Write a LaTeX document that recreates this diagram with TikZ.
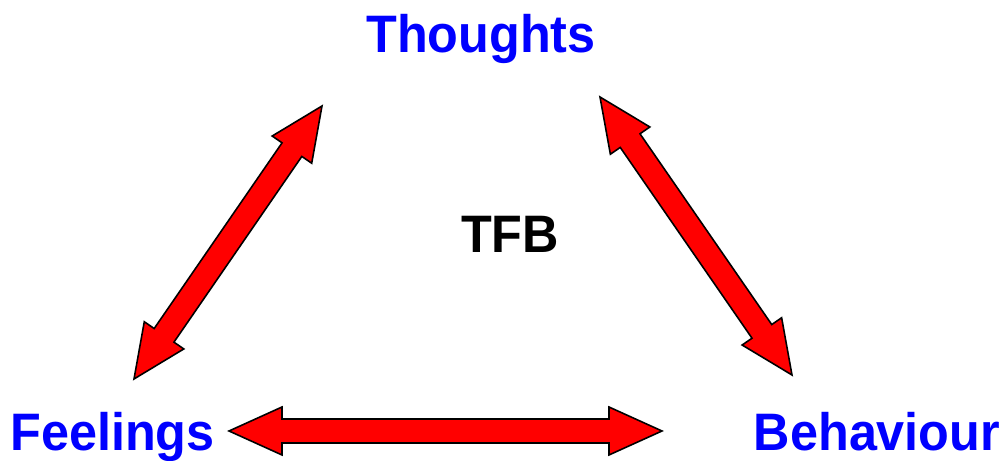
\documentclass[tikz,border=0pt]{standalone}
\usepackage{fontspec}
\setmainfont{Liberation Sans}[FakeStretch=0.955]
\usepackage{tikz}
\usetikzlibrary{calc}
\tikzstyle{word}=[inner sep=0pt, anchor=base, font=\fontsize{30}{36}\selectfont\bfseries, text=blue]
\tikzstyle{mid}=[inner sep=0pt, anchor=base, font=\fontsize{30}{36}\selectfont\bfseries, text=black]
\tikzstyle{fatarrow}=[draw=black, fill=red, line width=0.9pt, line join=miter,% a flat double arrow
to path={-- ($(\tikztostart)!1.06cm!(\tikztotarget)!0.48cm!90:(\tikztotarget)$)
 -- ($(\tikztostart)!1.06cm!(\tikztotarget)!0.24cm!90:(\tikztotarget)$)
 -- ($(\tikztotarget)!1.06cm!(\tikztostart)!0.24cm!-90:(\tikztostart)$)
 -- ($(\tikztotarget)!1.06cm!(\tikztostart)!0.48cm!-90:(\tikztostart)$)
 -- (\tikztotarget)
 -- ($(\tikztotarget)!1.06cm!(\tikztostart)!0.48cm!90:(\tikztostart)$)
 -- ($(\tikztotarget)!1.06cm!(\tikztostart)!0.24cm!90:(\tikztostart)$)
 -- ($(\tikztostart)!1.06cm!(\tikztotarget)!0.24cm!-90:(\tikztotarget)$)
 -- ($(\tikztostart)!1.06cm!(\tikztotarget)!0.48cm!-90:(\tikztotarget)$)
 -- cycle}]
\begin{document}
\begin{tikzpicture}
\useasboundingbox (0,0) rectangle (20.02,9.22);
\node[word] (th) at (9.62,8.16) {Thoughts};
\node[word] (fe) at (2.25,0.21) {Feelings};
\node[word] (be) at (17.54,0.21) {Behaviour};
\node[mid] (tfb) at (10.2,4.16) {TFB};
\coordinate (th-l) at (6.44,7.10);
\coordinate (fe-t) at (2.68,1.64);
\coordinate (th-r) at (12.0,7.28);
\coordinate (be-t) at (15.84,1.72);
\coordinate (fe-r) at (4.58,0.60);
\coordinate (be-l) at (13.24,0.60);
\draw[fatarrow] (fe-t) to (th-l);
\draw[fatarrow] (th-r) to (be-t);
\draw[fatarrow] (fe-r) to (be-l);
\end{tikzpicture}
\end{document}
